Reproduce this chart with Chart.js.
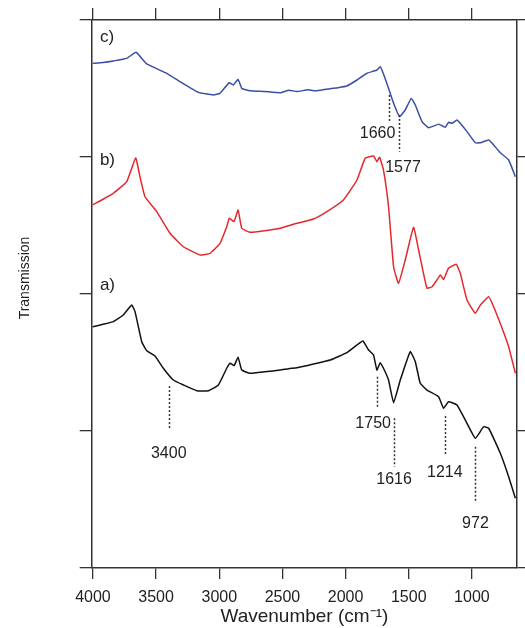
<!DOCTYPE html>
<html>
<head>
<meta charset="utf-8">
<script src="https://cdn.jsdelivr.net/npm/chart.js@4.4.1/dist/chart.umd.min.js"></script>
<style>
  html, body { margin: 0; padding: 0; background: #fff; }
  #wrap { width: 525px; height: 628px; }
</style>
</head>
<body>
<div id="wrap"><canvas id="ftir"></canvas></div>
<script>
const xTicks = [4000, 3500, 3000, 2500, 2000, 1500, 1000];
const yTicks = [0, 1, 2, 3, 4];

// c) blue
const wnC = [4002, 3920, 3839, 3733, 3659, 3574, 3416, 3311, 3166, 3047, 2994, 2922, 2888, 2851, 2822, 2756, 2640, 2518, 2450, 2386,
  2300, 2254, 2200, 2122, 2060, 1990, 1910, 1831, 1752, 1726, 1700, 1660, 1620, 1573, 1528, 1480, 1448, 1395, 1343, 1264,
  1250, 1211, 1185, 1158, 1118, 1092, 1039, 973, 933, 867, 828, 775, 709, 656];
const tC = [3.684, 3.690, 3.701, 3.720, 3.764, 3.679, 3.611, 3.550, 3.472, 3.453, 3.465, 3.542, 3.526, 3.567, 3.501, 3.484, 3.478, 3.469, 3.488, 3.478,
  3.490, 3.484, 3.488, 3.499, 3.506, 3.518, 3.562, 3.611, 3.635, 3.659, 3.606, 3.501, 3.392, 3.294, 3.343, 3.428, 3.380, 3.258, 3.214, 3.240,
  3.234, 3.217, 3.253, 3.246, 3.270, 3.246, 3.185, 3.104, 3.104, 3.124, 3.088, 3.031, 2.978, 2.856];

// b) red
const wnB = [4002, 3839, 3733, 3662, 3628, 3588, 3495, 3390, 3284, 3152, 3073, 2994, 2941, 2920, 2883, 2851, 2822, 2756, 2640, 2518,
  2386, 2254, 2148, 2017, 1910, 1845, 1779, 1752, 1731, 1700, 1660, 1620, 1581, 1528, 1462, 1422, 1356, 1316, 1277, 1250,
  1224, 1185, 1124, 1092, 1039, 973, 933, 867, 828, 761, 709, 656];
const tB = [2.650, 2.735, 2.820, 2.993, 2.856, 2.710, 2.601, 2.443, 2.345, 2.285, 2.297, 2.370, 2.491, 2.553, 2.528, 2.613, 2.480, 2.450, 2.462, 2.480,
  2.516, 2.547, 2.601, 2.686, 2.832, 2.991, 3.007, 2.966, 2.998, 2.905, 2.637, 2.199, 2.078, 2.248, 2.487, 2.321, 2.042, 2.053, 2.102, 2.139,
  2.107, 2.188, 2.217, 2.151, 1.956, 1.859, 1.920, 1.980, 1.907, 1.750, 1.615, 1.421];

// a) black
const wnA = [4002, 3839, 3760, 3693, 3667, 3614, 3574, 3509, 3443, 3364, 3284, 3178, 3086, 3007, 2941, 2914, 2883, 2851, 2822, 2756,
  2640, 2518, 2450, 2386, 2300, 2254, 2122, 1990, 1910, 1863, 1818, 1779, 1752, 1726, 1700, 1660, 1620, 1567, 1488, 1448,
  1409, 1356, 1264, 1224, 1185, 1118, 1039, 973, 907, 867, 775, 709, 656];
const tA = [1.761, 1.798, 1.847, 1.920, 1.871, 1.652, 1.586, 1.547, 1.458, 1.372, 1.336, 1.294, 1.294, 1.336, 1.458, 1.494, 1.477, 1.538, 1.445, 1.421,
  1.432, 1.445, 1.455, 1.462, 1.478, 1.489, 1.518, 1.572, 1.628, 1.657, 1.591, 1.555, 1.445, 1.499, 1.458, 1.372, 1.207, 1.372, 1.579, 1.506,
  1.348, 1.299, 1.250, 1.166, 1.214, 1.190, 1.056, 0.947, 1.031, 1.020, 0.837, 0.666, 0.509];

// peak marks: wavenumber, dotted line from/to, label height
const peakWn = [1660, 1577, 3400, 1750, 1616, 1214, 972];
const peakTop = [3.453, 3.307, 1.328, 1.396, 1.093, 1.109, 0.885];
const peakBottom = [3.250, 3.039, 1.007, 1.177, 0.739, 0.818, 0.477];
const peakLabelY = [3.168, 2.923, 0.832, 1.053, 0.648, 0.697, 0.321];

const panelNames = ['c)', 'b)', 'a)'];
const panelY = [3.876, 2.978, 2.066];

const FONT = '"Liberation Sans", Arial, sans-serif';
const frameColor = '#333333';
const labelShift = [-11, 4, 0, -4, 0, 0, 0];

function pts(wn, t) {
    return wn.map((w, i) => ({ x: w, y: t[i] }));
}

const peakMarks = {
    id: 'peakMarks',
    afterDatasetsDraw(chart) {
        const { ctx, scales: { x, y } } = chart;
        ctx.save();
        ctx.strokeStyle = '#333';
        ctx.lineWidth = 1.5;
        ctx.setLineDash([2, 2]);
        peakWn.forEach((w, i) => {
            const px = Math.round(x.getPixelForValue(w)) + 0.5;
            ctx.beginPath();
            ctx.moveTo(px, y.getPixelForValue(peakTop[i]));
            ctx.lineTo(px, y.getPixelForValue(peakBottom[i]));
            ctx.stroke();
        });
        ctx.setLineDash([]);

        ctx.fillStyle = '#222';
        ctx.font = '16px ' + FONT;
        ctx.textAlign = 'center';
        ctx.textBaseline = 'middle';
        peakWn.forEach((w, i) => {
            ctx.fillText(String(w), x.getPixelForValue(w) + labelShift[i], y.getPixelForValue(peakLabelY[i]));
        });

        ctx.font = '17px ' + FONT;
        ctx.textAlign = 'left';
        panelNames.forEach((n, i) => {
            ctx.fillText(n, x.getPixelForValue(3945), y.getPixelForValue(panelY[i]));
        });

        // y axis title
        ctx.translate(25, 278);
        ctx.rotate(-Math.PI / 2);
        ctx.textAlign = 'center';
        ctx.font = '14px ' + FONT;
        ctx.fillText('Transmission', 0, 0);
        ctx.restore();
    }
};

function edgeAxis(position, tickLength, ticksList) {
    return {
        type: 'linear',
        position: position,
        afterBuildTicks: s => { s.ticks = ticksList.map(v => ({ value: v })); },
        ticks: { display: false },
        grid: { drawOnChartArea: false, drawTicks: true, tickLength: tickLength, color: frameColor, lineWidth: 1.3 },
        border: { display: true, color: frameColor, width: 1.5 }
    };
}

const xTop = Object.assign(edgeAxis('top', 12, xTicks), { reverse: true, min: 643, max: 4010 });
const yLeft = Object.assign(edgeAxis('left', 12, yTicks), { min: 0, max: 4, afterFit: s => { s.width = 91.7; } });
const yRight = Object.assign(edgeAxis('right', 8, yTicks), { min: 0, max: 4 });

new Chart(document.getElementById('ftir'), {
    type: 'line',
    data: {
        datasets: [
            { label: 'c)', data: pts(wnC, tC), borderColor: '#3a4ea3', borderWidth: 1.5, pointRadius: 0, tension: 0.12 },
            { label: 'b)', data: pts(wnB, tB), borderColor: '#e5282b', borderWidth: 1.5, pointRadius: 0, tension: 0.12 },
            { label: 'a)', data: pts(wnA, tA), borderColor: '#111111', borderWidth: 1.5, pointRadius: 0, tension: 0.12 }
        ]
    },
    options: {
        responsive: true,
        maintainAspectRatio: false,
        animation: false,
        layout: { padding: { top: 8, right: 0, bottom: 0, left: 0 } },
        plugins: {
            legend: { display: false },
            tooltip: { enabled: false }
        },
        scales: {
            x: {
                type: 'linear',
                position: 'bottom',
                reverse: true,
                min: 643,
                max: 4010,
                afterBuildTicks: s => { s.ticks = xTicks.map(v => ({ value: v })); },
                afterFit: s => { s.height = 60; },
                ticks: {
                    callback: v => String(v),
                    font: { size: 16, family: FONT },
                    color: '#222',
                    padding: 9,
                    maxRotation: 0,
                    autoSkip: false
                },
                grid: { drawOnChartArea: false, tickLength: 11, color: frameColor, lineWidth: 1.3 },
                border: { color: frameColor, width: 1.5 },
                title: {
                    display: true,
                    text: 'Wavenumber (cm\u207B\u00B9)',
                    font: { size: 19, family: FONT },
                    color: '#222',
                    padding: 0
                }
            },
            x2: xTop,
            y: yLeft,
            y2: yRight
        }
    },
    plugins: [peakMarks]
});
</script>
</body>
</html>
